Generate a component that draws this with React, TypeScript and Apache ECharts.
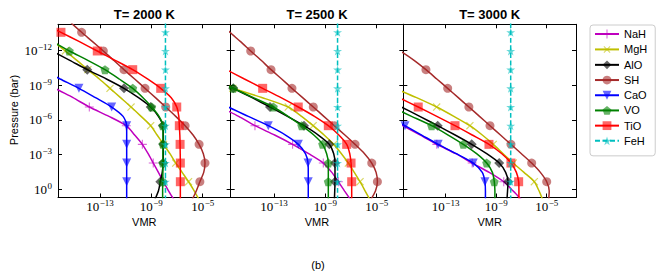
import React, { useEffect, useRef } from 'react';
import * as echarts from 'echarts';

const W = 664;
const H = 278;

// log10 pressure levels (bar); markers sit on every other level (odd indices)
const P = [-14.36, -13.55, -12.745, -11.94, -11.135, -10.33, -9.525, -8.72, -7.915, -7.11, -6.305, -5.5, -4.695, -3.89, -3.085, -2.28, -1.475, -0.67, 0.135, 0.94];

// log10 VMR, T = 2000 K
const NaH_2000 = [-26, -24.6, -23.2, -21.8, -20.4, -19.0, -17.7, -16.5, -15.1, -13.83, -12.3, -10.95, -10.3, -9.7, -9.25, -8.85, -8.45, -8.05, -7.65, -7.2];
const MgH_2000 = [-18.4, -17.5, -16.6, -15.7, -14.8, -13.94, -13.05, -12.22, -11.4, -10.58, -9.8, -9.05, -8.55, -8.05, -7.55, -7.1, -6.6, -6.1, -5.65, -5.25];
const AlO_2000 = [-20.5, -19.2, -18.1, -16.75, -15.35, -13.99, -12.5, -11.13, -10.0, -9.05, -8.45, -8.1, -8.07, -8.07, -8.07, -8.08, -8.15, -8.3, -8.45, -8.75];
const SH_2000 = [-15.25, -14.43, -13.58, -12.74, -11.93, -11.13, -10.3, -9.49, -8.68, -7.88, -7.1, -6.37, -5.75, -5.28, -4.95, -4.82, -4.92, -5.22, -5.5, -5.85];
const CaO_2000 = [-24.5, -23.1, -21.7, -20.3, -18.9, -17.5, -16.1, -14.64, -13.35, -12.09, -11.2, -10.92, -10.92, -10.92, -10.92, -10.92, -10.92, -10.92, -10.92, -10.92];
const VO_2000 = [-19.5, -18.1, -16.7, -15.39, -13.95, -12.61, -11.5, -10.45, -9.65, -8.97, -8.4, -8.1, -8.09, -8.09, -8.1, -8.1, -8.1, -8.11, -8.12, -8.12];
const TiO_2000 = [-17.5, -16.04, -14.6, -13.21, -11.82, -10.45, -9.3, -8.27, -7.45, -7.02, -6.86, -6.82, -6.78, -6.76, -6.75, -6.74, -6.74, -6.74, -6.74, -6.74];
const FeH_2000 = [-7.9, -7.9, -7.9, -7.9, -7.9, -7.9, -7.9, -7.9, -7.9, -7.9, -7.9, -7.9, -7.9, -7.9, -7.9, -7.9, -7.9, -7.9, -7.9, -7.9];

// log10 VMR, T = 2500 K
const NaH_2500 = [-29.9, -28.5, -27.1, -25.7, -24.3, -22.9, -21.5, -20.1, -18.65, -17.2, -15.75, -14.48, -12.95, -11.55, -10.3, -9.16, -8.5, -7.99, -7.5, -7.0];
const MgH_2500 = [-31.0, -28.8, -26.6, -24.4, -22.2, -20.6, -18.4, -16.2, -13.9, -11.89, -10.85, -9.95, -9.1, -8.35, -7.75, -7.21, -6.75, -6.3, -5.9, -5.5];
const AlO_2500 = [-26.0, -24.6, -23.2, -21.8, -20.4, -19.0, -17.6, -16.17, -14.7, -13.31, -11.95, -10.66, -9.55, -8.69, -8.35, -8.25, -8.25, -8.25, -8.27, -8.3];
const SH_2500 = [-17.2, -16.43, -15.6, -14.81, -14.0, -13.23, -12.4, -11.6, -10.77, -9.94, -9.12, -8.3, -7.48, -6.69, -5.95, -5.39, -5.05, -4.95, -5.1, -5.5];
const CaO_2500 = [-29.1, -27.7, -26.3, -24.9, -23.5, -22.1, -20.7, -19.3, -17.9, -16.55, -15.0, -13.44, -12.1, -11.1, -10.55, -10.35, -10.33, -10.33, -10.33, -10.33];
const VO_2500 = [-26.7, -25.2, -23.7, -22.2, -20.7, -19.2, -17.7, -16.17, -14.6, -13.05, -11.9, -10.84, -9.9, -9.21, -8.9, -8.77, -8.77, -8.77, -8.77, -8.77];
const TiO_2500 = [-23.7, -22.3, -20.9, -19.5, -18.1, -16.7, -15.3, -13.88, -12.45, -11.11, -9.85, -8.77, -7.95, -7.34, -7.1, -7.0, -6.96, -6.95, -6.95, -6.95];
const FeH_2500 = [-8.05, -8.05, -8.05, -8.05, -8.05, -8.05, -8.05, -8.05, -8.05, -8.05, -8.05, -8.05, -8.05, -8.05, -8.05, -8.05, -8.05, -8.05, -8.05, -8.05];

// log10 VMR, T = 3000 K
const NaH_3000 = [-31.8, -30.4, -29.0, -27.6, -26.2, -24.8, -23.4, -22.0, -20.6, -19.2, -17.8, -16.4, -15.0, -13.7, -12.2, -10.9, -9.55, -8.4, -7.65, -6.95];
const MgH_3000 = [-28.9, -27.2, -25.5, -23.8, -22.1, -20.4, -18.7, -17.0, -15.3, -13.71, -12.35, -11.08, -10.1, -9.23, -8.45, -7.65, -6.8, -5.98, -5.6, -5.3];
const AlO_3000 = [-29.55, -28.1, -26.65, -25.2, -23.75, -22.3, -20.85, -19.4, -17.95, -16.5, -15.05, -13.63, -12.25, -10.94, -9.75, -8.76, -8.25, -8.06, -8.1, -8.15];
const SH_3000 = [-20.2, -19.0, -17.8, -16.6, -15.5, -14.56, -13.7, -12.84, -12.0, -11.16, -10.32, -9.49, -8.66, -7.83, -7.0, -6.19, -5.5, -5.0, -4.8, -4.85];
const CaO_3000 = [-31.6, -30.2, -28.8, -27.4, -26.0, -24.6, -23.2, -21.8, -20.4, -19.0, -17.6, -16.22, -14.9, -13.59, -12.15, -10.81, -10.1, -9.89, -9.85, -9.85];
const VO_3000 = [-31.7, -30.1, -28.5, -26.9, -25.3, -23.7, -22.1, -20.5, -18.9, -17.3, -15.7, -14.11, -12.8, -11.6, -10.55, -9.75, -9.3, -9.15, -9.1, -9.1];
const TiO_3000 = [-28.7, -27.2, -25.7, -24.2, -22.7, -21.2, -19.7, -18.2, -16.7, -15.17, -13.7, -12.26, -10.9, -9.57, -8.55, -7.83, -7.4, -7.22, -7.2, -7.2];
const FeH_3000 = [-7.85, -7.85, -7.85, -7.85, -7.85, -7.85, -7.85, -7.85, -7.85, -7.85, -7.85, -7.85, -7.85, -7.85, -7.85, -7.85, -7.85, -7.85, -7.85, -7.85];

const SPECIES = ['NaH', 'MgH', 'AlO', 'SH', 'CaO', 'VO', 'TiO', 'FeH'];
const TITLES = ['T= 2000 K', 'T= 2500 K', 'T= 3000 K'];
const X_TICKS = [-13, -9, -5];
const Y_TICKS = [-12, -9, -6, -3, 0];
const X_RANGES = [[-16.27, -2.82], [-16.37, -2.93], [-16.35, -2.68]];
const Y_RANGE = [-14.24, 0.69];
const PANEL_DATA = [
  [NaH_2000, MgH_2000, AlO_2000, SH_2000, CaO_2000, VO_2000, TiO_2000, FeH_2000],
  [NaH_2500, MgH_2500, AlO_2500, SH_2500, CaO_2500, VO_2500, TiO_2500, FeH_2500],
  [NaH_3000, MgH_3000, AlO_3000, SH_3000, CaO_3000, VO_3000, TiO_3000, FeH_3000],
];

// styles
const SERIF = "'Liberation Serif', 'DejaVu Serif', serif";
const SANS = "'Liberation Sans', Arial, sans-serif";
const PLUS = 'path://M-0.12,-1L0.12,-1L0.12,-0.12L1,-0.12L1,0.12L0.12,0.12L0.12,1L-0.12,1L-0.12,0.12L-1,0.12L-1,-0.12L-0.12,-0.12Z';
const DIAMOND = 'path://M0,-1L1,0L0,1L-1,0Z';
const TRI_DOWN = 'path://M-1,-0.85L1,-0.85L0,1Z';
const PENTAGON = 'path://M0,-1L0.951,-0.309L0.588,0.809L-0.588,0.809L-0.951,-0.309Z';
const STAR = 'path://M0,-1L0.2245,-0.309L0.951,-0.309L0.363,0.118L0.588,0.809L0,0.382L-0.588,0.809L-0.363,0.118L-0.951,-0.309L-0.2245,-0.309Z';

const STYLE = [
  { color: '#bf00bf', symbol: PLUS, size: 9, rotate: 0, dashed: false },
  { color: '#bfbf00', symbol: PLUS, size: 10, rotate: 45, dashed: false },
  { color: '#000000', symbol: DIAMOND, size: 10, rotate: 0, dashed: false },
  { color: '#a52a2a', symbol: 'circle', size: 9, rotate: 0, dashed: false },
  { color: '#0000ff', symbol: TRI_DOWN, size: 9, rotate: 0, dashed: false },
  { color: '#008000', symbol: PENTAGON, size: 9, rotate: 0, dashed: false },
  { color: '#ff0000', symbol: 'rect', size: 9, rotate: 0, dashed: false },
  { color: '#00bfbf', symbol: STAR, size: 9, rotate: 0, dashed: true },
];

const GRID_LEFT = [58, 230.67, 403.33];
const GRID_W = 172.67;
const GRID_TOP = 24.3;
const GRID_H = 173.2;

const expLabel = (v: number) => '{b|10}{s|' + (v === 0 ? '0' : '\u2212' + Math.abs(v)) + '}';
const RICH = {
  b: { fontFamily: SERIF, fontSize: 13, color: '#000' },
  s: { fontFamily: SERIF, fontSize: 9, color: '#000', padding: [0, 0, 7, 0.5] },
};

function buildOption() {
  const grid: any[] = [];
  const xAxis: any[] = [];
  const yAxis: any[] = [];
  const series: any[] = [];
  const graphic: any[] = [];
  const line = { show: true, onZero: false, lineStyle: { color: '#000', width: 1 } };

  for (let i = 0; i < 3; i++) {
    grid.push({ left: GRID_LEFT[i], top: GRID_TOP, width: GRID_W, height: GRID_H, outerBoundsMode: 'none', containLabel: false });
    const [xmin, xmax] = X_RANGES[i];
    const xTick = { show: true, inside: true, length: 4, customValues: X_TICKS, lineStyle: { color: '#000', width: 1 } };
    const yTick = { show: true, inside: true, length: 4, customValues: Y_TICKS, lineStyle: { color: '#000', width: 1 } };
    xAxis.push({
      type: 'value', gridIndex: i, position: 'bottom', min: xmin, max: xmax,
      axisLine: line, axisTick: xTick, splitLine: { show: false },
      axisLabel: { show: true, customValues: X_TICKS, formatter: expLabel, rich: RICH, margin: 1 },
    });
    xAxis.push({
      type: 'value', gridIndex: i, position: 'top', min: xmin, max: xmax,
      axisLine: line, axisTick: xTick, splitLine: { show: false }, axisLabel: { show: false },
    });
    yAxis.push({
      type: 'value', gridIndex: i, position: 'left', inverse: true, min: Y_RANGE[0], max: Y_RANGE[1],
      axisLine: line, axisTick: yTick, splitLine: { show: false },
      axisLabel: { show: i === 0, customValues: Y_TICKS, formatter: expLabel, rich: RICH, margin: 6 },
    });
    yAxis.push({
      type: 'value', gridIndex: i, position: 'right', inverse: true, min: Y_RANGE[0], max: Y_RANGE[1],
      axisLine: line, axisTick: yTick, splitLine: { show: false }, axisLabel: { show: false },
    });

    PANEL_DATA[i].forEach((vals, s) => {
      const st = STYLE[s];
      series.push({
        type: 'line',
        name: SPECIES[s],
        xAxisIndex: i * 2,
        yAxisIndex: i * 2,
        data: P.map((p, k) => ({ value: [vals[k], p], symbol: k % 2 === 1 ? st.symbol : 'none' })),
        symbol: st.symbol,
        symbolSize: st.size,
        symbolRotate: st.rotate,
        showSymbol: true,
        smooth: 0.25,
        clip: true,
        z: 2 + s,
        lineStyle: { color: st.color, width: 1.5, type: st.dashed ? [5, 2.5] : 'solid' },
        itemStyle: { color: st.color, opacity: 0.6 },
        emphasis: { disabled: true },
      });
    });

    const cx = GRID_LEFT[i] + GRID_W / 2;
    graphic.push({
      type: 'text', x: cx, y: 14,
      style: { text: TITLES[i], fill: '#000', font: `bold 13px ${SANS}`, textAlign: 'center', textVerticalAlign: 'middle' },
    });
    graphic.push({
      type: 'text', x: cx, y: 222,
      style: { text: 'VMR', fill: '#000', font: `11px ${SANS}`, textAlign: 'center', textVerticalAlign: 'middle' },
    });
  }

  graphic.push({
    type: 'text', x: 14, y: 110, rotation: Math.PI / 2,
    style: { text: 'Pressure (bar)', fill: '#000', font: `11px ${SANS}`, textAlign: 'center', textVerticalAlign: 'middle' },
  });
  graphic.push({
    type: 'text', x: 318, y: 265,
    style: { text: '(b)', fill: '#000', font: `11px ${SANS}`, textAlign: 'center', textVerticalAlign: 'middle' },
  });

  return {
    animation: false,
    backgroundColor: '#fff',
    grid,
    xAxis,
    yAxis,
    series,
    graphic,
    legend: {
      show: true,
      data: SPECIES,
      orient: 'vertical',
      left: 590,
      top: 25,
      padding: [3, 8, 9, 4],
      itemWidth: 24,
      itemHeight: 11,
      itemGap: 3.2,
      selectedMode: false,
      borderColor: '#cccccc',
      borderWidth: 1,
      borderRadius: 3,
      backgroundColor: '#fff',
      textStyle: { fontFamily: SANS, fontSize: 11, color: '#000', lineHeight: 12 },
    },
  };
}

export default function App() {
  const ref = useRef<HTMLDivElement>(null);
  useEffect(() => {
    const chart = echarts.init(ref.current as HTMLDivElement, null, { renderer: 'svg', width: W, height: H });
    chart.setOption(buildOption() as any);
    return () => chart.dispose();
  }, []);
  return <div ref={ref} style={{ position: 'absolute', left: 0, top: 0, width: W, height: H, background: '#fff' }} />;
}
